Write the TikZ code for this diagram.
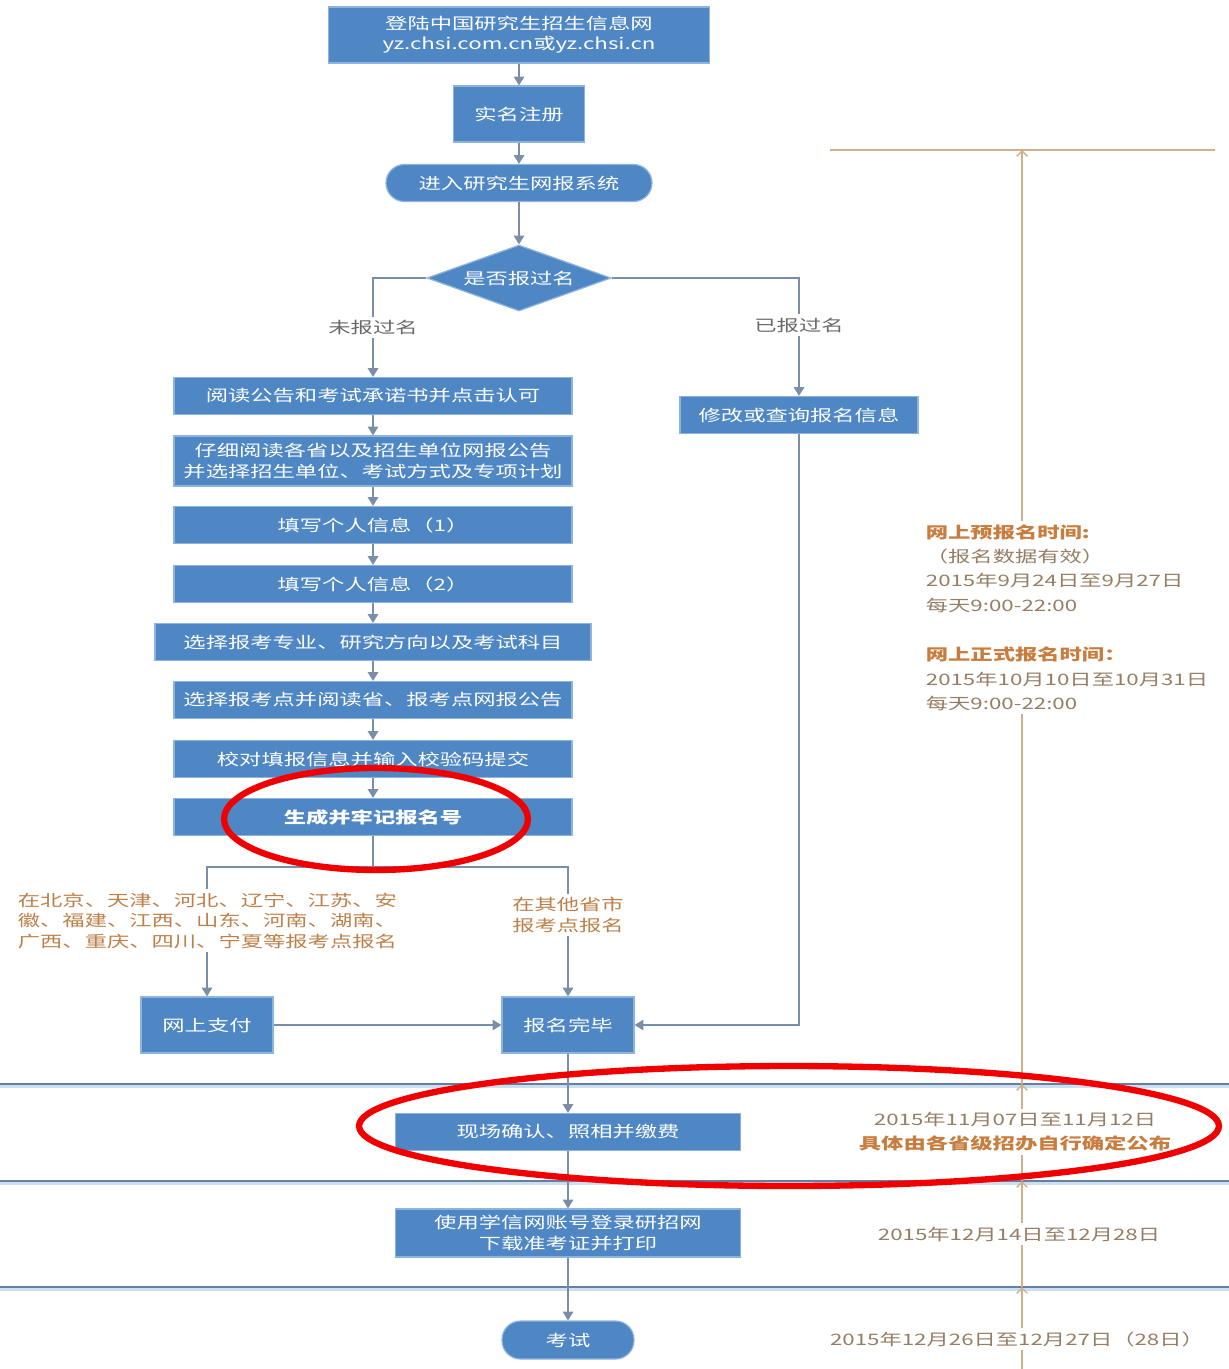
\documentclass[tikz,border=0pt]{standalone}
\usepackage{fontspec}
\setmainfont{Noto Sans CJK SC}
\usepackage{graphicx}
\usetikzlibrary{shapes.geometric,arrows.meta}
\definecolor{boxblue}{RGB}{78,135,196}
\definecolor{boxedge}{RGB}{140,180,222}
\definecolor{linec}{RGB}{122,142,168}
\definecolor{bandc}{RGB}{100,128,160}
\definecolor{bandl}{RGB}{205,222,240}
\definecolor{tanc}{RGB}{208,175,140}
\definecolor{labc}{RGB}{188,128,72}
\definecolor{datec}{RGB}{150,125,100}
\definecolor{headc}{RGB}{200,125,62}
\definecolor{ringred}{RGB}{240,0,0}
\definecolor{grayc}{RGB}{105,105,105}
\newcommand{\hs}[1]{\scalebox{1.41}[1]{#1}}
\tikzset{
  box/.style={draw=boxedge, line width=0.7pt, fill=boxblue, text=white, inner sep=0pt,
    align=center, font=\fontsize{9}{11.5}\selectfont},
  wide/.style={box, minimum width=7.96cm, minimum height=0.74cm},
  pill/.style={box, rounded corners=0.37cm},
  conn/.style={draw=linec, line width=0.8pt, -{Triangle[width=6pt,length=5pt]}},
  plain/.style={draw=linec, line width=0.8pt},
  glabel/.style={fill=white, text=grayc, inner sep=2pt, font=\fontsize{9}{11}\selectfont},
  olabel/.style={fill=white, text=labc, inner sep=2pt, align=left, font=\fontsize{9}{11.7}\selectfont},
  datetxt/.style={fill=white, text=datec, inner sep=2pt, align=left, font=\fontsize{9}{13.8}\selectfont},
  band/.style={draw=bandc, line width=1.2pt},
  bandshadow/.style={draw=bandl, line width=2pt},
  tline/.style={draw=tanc, line width=0.8pt},
  tarrow/.style={draw=tanc, line width=0.8pt, -{Straight Barb[length=3pt,width=6pt]}},
  ring/.style={draw=ringred, line width=3.6pt},
}
\begin{document}
\begin{tikzpicture}[x=0.02cm, y=-0.02cm]
\useasboundingbox (0,0) rectangle (1229,1369);

% band lines
\foreach \yy in {1084,1181,1287}{
  \draw[bandshadow] (0,\yy+2.5) -- (1229,\yy+2.5);
  \draw[band] (0,\yy) -- (1229,\yy);
}

% timeline
\draw[tline] (830,150) -- (1215,150);
\coordinate (tb) at (1022,1369);
\coordinate (t4) at (1022,1287);
\coordinate (t3) at (1022,1181);
\coordinate (t2) at (1022,1084);
\coordinate (t1) at (1022,150);
\draw[tarrow] (tb) -- (t4);
\draw[tarrow] (t4) -- (t3);
\draw[tarrow] (t3) -- (t2);
\draw[tarrow] (t2) -- (t1);

\node[datetxt, anchor=north west] (pre) at (922,521)
  {\textcolor{headc}{\bfseries\hs{网上预报名时间:}}\\
   \hs{（报名数据有效）}\\
   \hs{2015年9月24日至9月27日}\\
   \hs{每天9:00-22:00}\\[14.5pt]
   \textcolor{headc}{\bfseries\hs{网上正式报名时间：}}\\
   \hs{2015年10月10日至10月31日}\\
   \hs{每天9:00-22:00}};
\node[datetxt, align=center] (d1) at (1015,1132)
  {\hs{2015年11月07日至11月12日}\\
   \textcolor{headc}{\bfseries\hs{具体由各省级招办自行确定公布}}};
\node[datetxt] (d2) at (1019,1234) {\hs{2015年12月14日至12月28日}};
\node[datetxt] (d3) at (1017,1339) {\hs{2015年12月26日至12月27日（28日）}};

% flow nodes
\node[box, minimum width=7.62cm, minimum height=1.12cm] (top) at (519,35)
  {\hs{登陆中国研究生招生信息网}\\\hs{yz.chsi.com.cn或yz.chsi.cn}};
\node[box, minimum width=2.62cm, minimum height=1.12cm] (reg) at (519,114) {\hs{实名注册}};
\node[pill, minimum width=5.32cm, minimum height=0.74cm] (sys) at (519,183) {\hs{进入研究生网报系统}};
\node[box, shape=diamond, shape aspect=2.79, minimum width=3.68cm, minimum height=1.32cm] (dia) at (519,278) {\hs{是否报过名}};

\node[wide] (n1) at (373,396) {\hs{阅读公告和考试承诺书并点击认可}};
\node[wide, minimum height=1.0cm] (n2) at (373,461)
  {\hs{仔细阅读各省以及招生单位网报公告}\\\hs{并选择招生单位、考试方式及专项计划}};
\node[wide] (n3) at (373,525) {\hs{填写个人信息（1）}};
\node[wide] (n4) at (373,584) {\hs{填写个人信息（2）}};
\node[wide, minimum width=8.72cm] (n5) at (373,642) {\hs{选择报考专业、研究方向以及考试科目}};
\node[wide] (n6) at (373,700) {\hs{选择报考点并阅读省、报考点网报公告}};
\node[wide] (n7) at (373,759) {\hs{校对填报信息并输入校验码提交}};
\node[wide] (n8) at (373,817) {\bfseries\hs{生成并牢记报名号}};

\node[box, minimum width=4.76cm, minimum height=0.74cm] (mod) at (799,415) {\hs{修改或查询报名信息}};

\node[box, minimum width=2.64cm, minimum height=1.12cm] (pay) at (207,1025) {\hs{网上支付}};
\node[box, minimum width=2.64cm, minimum height=1.12cm] (done) at (568,1025) {\hs{报名完毕}};

\node[box, minimum width=6.9cm, minimum height=0.74cm] (cf) at (568,1132) {\hs{现场确认、照相并缴费}};
\node[box, minimum width=6.9cm, minimum height=0.96cm] (dl) at (568,1233)
  {\hs{使用学信网账号登录研招网}\\\hs{下载准考证并打印}};
\node[pill, minimum width=2.64cm, minimum height=0.76cm] (exam) at (568,1340) {\hs{考试}};

% connectors
\draw[conn] (top) -- (reg);
\draw[conn] (reg) -- (sys);
\draw[conn] (sys) -- (dia);
\draw[conn] (dia.west) -| (n1.north) node[glabel, pos=0.75] (no) {\hs{未报过名}};
\draw[conn] (dia.east) -| (mod.north) node[glabel, pos=0.7] (yes) {\hs{已报过名}};
\draw[conn] (n1) -- (n2);
\draw[conn] (n2) -- (n3);
\draw[conn] (n3) -- (n4);
\draw[conn] (n4) -- (n5);
\draw[conn] (n5) -- (n6);
\draw[conn] (n6) -- (n7);
\draw[conn] (n7) -- (n8);
\coordinate (j) at (373,867);
\draw[plain] (n8) -- (j);
\draw[conn] (j) -| (pay.north);
\draw[conn] (j) -| (done.north);
\node[olabel, anchor=north west] (la) at (14,889)
  {\hs{在北京、天津、河北、辽宁、江苏、安}\\
   \hs{徽、福建、江西、山东、河南、湖南、}\\
   \hs{广西、重庆、四川、宁夏等报考点报名}};
\node[olabel, align=left] (lb) at (568,915)
  {\hs{在其他省市}\\\hs{报考点报名}};
\draw[conn] (pay) -- (done);
\draw[conn] (mod.south) |- (done.east);
\draw[conn] (done) -- (cf);
\draw[conn] (cf) -- (dl);
\draw[conn] (dl) -- (exam);

% red rings
\draw[ring] (376,819) ellipse [x radius=3.04cm, y radius=1.02cm];
\draw[ring] (789,1126) ellipse [x radius=8.6cm, y radius=1.2cm];
\end{tikzpicture}
\end{document}
